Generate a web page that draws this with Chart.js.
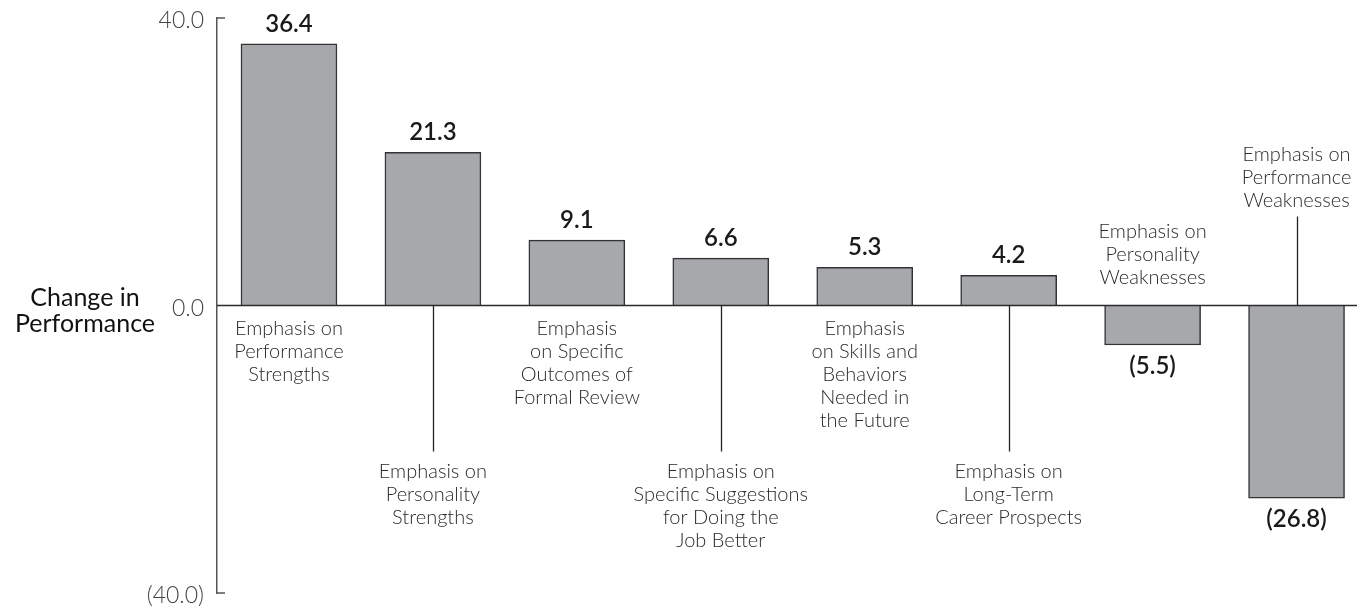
<!DOCTYPE html>
<html>
<head>
<meta charset="utf-8">
<script src="https://cdn.jsdelivr.net/npm/chart.js@4.4.0/dist/chart.umd.min.js"></script>
<style>
body { margin: 0; background: #fff; }
#wrap { width: 1357px; height: 611px; position: relative; }
</style>
</head>
<body>
<div id="wrap"><canvas id="perfChart"></canvas></div>
<script>
var categories = [
    ['Emphasis on', 'Performance', 'Strengths'],
    ['Emphasis on', 'Personality', 'Strengths'],
    ['Emphasis', 'on Specific', 'Outcomes of', 'Formal Review'],
    ['Emphasis on', 'Specific Suggestions', 'for Doing the', 'Job Better'],
    ['Emphasis', 'on Skills and', 'Behaviors', 'Needed in', 'the Future'],
    ['Emphasis on', 'Long-Term', 'Career Prospects'],
    ['Emphasis on', 'Personality', 'Weaknesses'],
    ['Emphasis on', 'Performance', 'Weaknesses']
];
var values = [36.4, 21.3, 9.1, 6.6, 5.3, 4.2, -5.5, -26.8];
var yTicks = [-40, 0, 40];
var yTitle = ['Change in', 'Performance'];
// where each category label sits relative to the zero line
var labelPlace = ['below', 'leader', 'below', 'leader', 'below', 'leader', 'above', 'top'];

var FONT = 'Lato, "Open Sans", sans-serif';

function fmt(v) {
    return v < 0 ? '(' + Math.abs(v).toFixed(1) + ')' : v.toFixed(1);
}

var annotate = {
    id: 'annotate',
    afterDatasetsDraw: function(chart) {
        var ctx = chart.ctx;
        var y = chart.scales.y;
        var area = chart.chartArea;
        var zero = y.getPixelForValue(0);
        ctx.save();

        // tick labels and small inward ticks at the ends of the axis
        ctx.strokeStyle = '#555';
        ctx.lineWidth = 1.5;
        ctx.fillStyle = '#444';
        ctx.font = '300 23px ' + FONT;
        ctx.textAlign = 'right';
        ctx.textBaseline = 'middle';
        yTicks.forEach(function(t) {
            var py = y.getPixelForValue(t);
            ctx.fillText(fmt(t), area.left - 13, py + 3);
            if (t === 0) return;
            ctx.beginPath();
            ctx.moveTo(area.left, py);
            ctx.lineTo(area.left + 8, py);
            ctx.stroke();
        });

        // zero line
        ctx.strokeStyle = '#2b2b2b';
        ctx.lineWidth = 1.5;
        ctx.beginPath();
        ctx.moveTo(area.left, zero);
        ctx.lineTo(area.right, zero);
        ctx.stroke();

        var meta = chart.getDatasetMeta(0);
        ctx.textAlign = 'center';
        meta.data.forEach(function(bar, i) {
            var cx = Math.round(bar.x) + 0.5;
            var place = labelPlace[i];
            var startY;
            ctx.strokeStyle = '#222';
            ctx.lineWidth = 1.3;
            if (place === 'below') {
                startY = zero + 23;
            } else if (place === 'leader') {
                ctx.beginPath();
                ctx.moveTo(cx, zero);
                ctx.lineTo(cx, zero + 146);
                ctx.stroke();
                startY = zero + 166;
            } else if (place === 'above') {
                startY = zero - 74;
            } else {
                ctx.beginPath();
                ctx.moveTo(cx, zero - 89);
                ctx.lineTo(cx, zero);
                ctx.stroke();
                startY = zero - 151;
            }
            ctx.fillStyle = '#2a2a2a';
            ctx.font = '300 20px ' + FONT;
            categories[i].forEach(function(line, k) {
                ctx.fillText(line, bar.x, startY + k * 23);
            });

            // value label
            var v = values[i];
            ctx.fillStyle = '#1a1a1a';
            ctx.font = '600 24px ' + FONT;
            ctx.fillText(fmt(v), bar.x, v >= 0 ? bar.y - 20 : bar.y + 21);
        });

        // horizontal axis title
        ctx.fillStyle = '#111';
        ctx.font = '400 25px ' + FONT;
        ctx.fillText(yTitle[0], 85, zero - 8);
        ctx.fillText(yTitle[1], 85, zero + 18);

        ctx.restore();
    }
};

var ctx = document.getElementById('perfChart').getContext('2d');
new Chart(ctx, {
    type: 'bar',
    data: {
        datasets: [{
            data: values.map(function(v, i) { return { x: i, y: v }; }),
            backgroundColor: '#a7a8ab',
            borderColor: '#333',
            borderWidth: 1.5,
            barThickness: 96
        }]
    },
    options: {
        responsive: true,
        maintainAspectRatio: false,
        animation: false,
        layout: {
            padding: { top: 18, bottom: 18, left: 0, right: 0 }
        },
        plugins: {
            legend: { display: false },
            tooltip: { enabled: false }
        },
        scales: {
            x: {
                type: 'linear',
                display: false,
                offset: false,
                min: -0.5,
                max: 7.42
            },
            y: {
                min: -40,
                max: 40,
                afterBuildTicks: function(scale) {
                    scale.ticks = yTicks.map(function(v) { return { value: v }; });
                },
                afterFit: function(scale) {
                    scale.width = 217;
                },
                grid: { display: false, drawTicks: false },
                border: { display: true, color: '#555', width: 1.5 },
                ticks: { display: false }
            }
        }
    },
    plugins: [annotate]
});
</script>
</body>
</html>
